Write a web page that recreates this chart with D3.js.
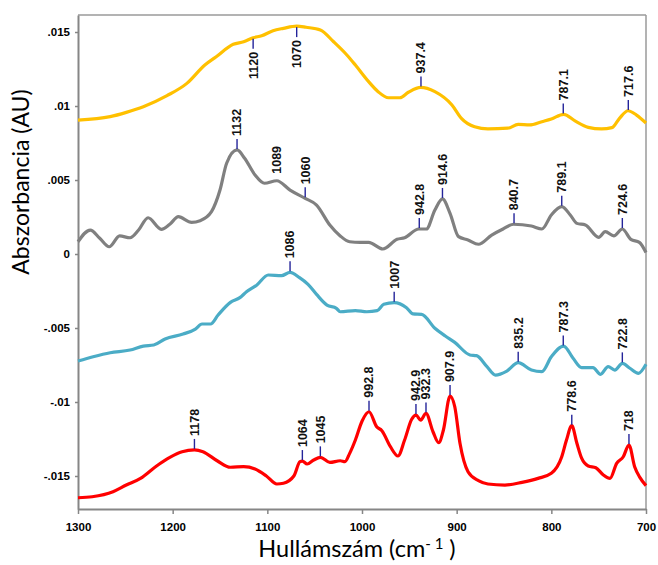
<!DOCTYPE html>
<html>
<head>
<meta charset="utf-8">
<script src="https://cdn.jsdelivr.net/npm/d3@7"></script>
<style>
body { margin: 0; background: #fff; }
</style>
</head>
<body>
<div id="chart"></div>
<script>
// spectra: [wavenumber, absorbance]
var yellowSeries = [[1300,.00905],[1266,.00928],[1249,.00957],[1231,.00995],[1206,.0107],[1185,.01153],[1166,.01277],[1154,.01333],[1136,.01417],[1125,.01434],[1115,.01461],[1106,.01475],[1094,.01509],[1083,.01525],[1069,.0154],[1059,.01532],[1044,.01514],[1030,.01434],[1016,.01345],[1007,.01277],[993,.01165],[983,.01097],[972,.01056],[960,.01056],[951,.01093],[938,.01126],[923,.01097],[905,.01007],[895,.00917],[881,.0086],[867,.00845],[846,.0085],[835,.00876],[823,.00872],[810,.00894],[800,.00912],[787,.00944],[775,.00899],[761,.00856],[747,.00845],[736,.00854],[728,.00917],[719,.00968],[710,.00939],[700,.00885]];
var graySeries = [[1300,.00083],[1287,.00162],[1277,.00106],[1267,.00049],[1256,.00122],[1245,.0011],[1236,.00162],[1226,.00245],[1212,.00167],[1203,.00201],[1194,.00252],[1180,.00214],[1171,.00225],[1159,.00286],[1150,.00432],[1143,.00613],[1132,.00703],[1124,.00647],[1113,.00534],[1103,.00478],[1090,.00495],[1076,.00432],[1060,.00376],[1048,.00331],[1034,.00196],[1023,.00122],[1013,.00083],[1002,.00079],[993,.00079],[978,.00034],[963,.00099],[955,.0011],[940,.00169],[932,.00169],[923,.00297],[915,.00372],[907,.00275],[898,.00117],[888,.00095],[877,.00066],[863,.00128],[851,.00169],[840,.00201],[821,.00189],[810,.00169],[800,.00264],[789,.0032],[780,.00264],[773,.00207],[764,.00196],[750,.00113],[743,.00151],[734,.00122],[725,.00169],[716,.00099],[707,.00079],[700,.0001]];
var blueSeries = [[1300,-.00723],[1284,-.00694],[1266,-.00667],[1245,-.00649],[1231,-.00622],[1220,-.00615],[1208,-.00574],[1189,-.00541],[1176,-.00507],[1169,-.00473],[1160,-.00473],[1152,-.00412],[1139,-.00327],[1129,-.00295],[1122,-.00255],[1111,-.00209],[1099,-.00142],[1085,-.00146],[1076,-.00124],[1066,-.0016],[1057,-.00205],[1048,-.00273],[1037,-.00345],[1027,-.00367],[1023,-.0039],[1007,-.00383],[995,-.0039],[984,-.00383],[977,-.0034],[966,-.00329],[953,-.00363],[946,-.00405],[937,-.00408],[923,-.00502],[912,-.00554],[902,-.00597],[886,-.00682],[879,-.00687],[868,-.00761],[859,-.00818],[847,-.00791],[835,-.00734],[821,-.00784],[810,-.00795],[800,-.00694],[787,-.00622],[777,-.00705],[768,-.00768],[756,-.00768],[748,-.00813],[740,-.00761],[733,-.00784],[725,-.00739],[717,-.00772],[708,-.00806],[700,-.00745]];
var redSeries = [[1300,-.01647],[1285,-.0164],[1263,-.01606],[1249,-.01561],[1234,-.01516],[1217,-.01432],[1203,-.01374],[1190,-.01336],[1177,-.01324],[1168,-.01336],[1153,-.01397],[1139,-.01441],[1125,-.01437],[1113,-.01453],[1101,-.015],[1090,-.01554],[1083,-.01549],[1072,-.015],[1065.5,-.01403],[1063,-.01399],[1058,-.01419],[1051,-.01392],[1044,-.01374],[1034,-.01408],[1023,-.01397],[1018,-.01403],[1013,-.01347],[1007,-.01257],[1000,-.0113],[992.6,-.01066],[984.5,-.01167],[979,-.01194],[970,-.01302],[962,-.01365],[955,-.01257],[947.5,-.01117],[943,-.01088],[938,-.01122],[932.4,-.01077],[925,-.01201],[919,-.01275],[914,-.01189],[907,-.0096],[902,-.01032],[896.5,-.01279],[888,-.01471],[877,-.01532],[867,-.01554],[849,-.01561],[831,-.01543],[814,-.01516],[800,-.01482],[789,-.0137],[784,-.01257],[778.4,-.0116],[773,-.01279],[768,-.0138],[761,-.01432],[753,-.01444],[745,-.01493],[738,-.01516],[731,-.01415],[724,-.0137],[718,-.01291],[712,-.01437],[706.5,-.01509],[700,-.01565]];

// peak labels: [text, wavenumber where the marker sits, below?]
var yellowPeaks = [["1120",1115,true],["1070",1069,true],["937.4",937.7],["787.1",787.4],["717.6",718.7]];
var grayPeaks = [["1132",1132],["1089",1090],["1060",1060],["942.8",939.5],["914.6",915],["840.7",839.4],["789.1",789],["724.6",725]];
var bluePeaks = [["1086",1076],["1007",966],["835.2",835],["787.3",787.4],["722.8",725]];
var redPeaks = [["1178",1177],["1064",1063],["1045",1044],["992.8",992.6],["942.9",943],["932.3",932.4],["907.9",907],["778.6",778.4],["718",718]];

var xTicks = [1300,1200,1100,1000,900,800,700];
var yTicks = [.015,.01,.005,0,-.005,-.01,-.015];
var yTickLabels = [".015",".01",".005","0","-.005","-.01","-.015"];

var width = 658, height = 565;
var plotLeft = 78, plotRight = 646, plotTop = 15, plotBottom = 509;
var tickFont = "'Liberation Sans', Arial, sans-serif";
var titleFont = "Lato, 'Open Sans', sans-serif";
var markColor = "#24249a";

var svg = d3.select("#chart").append("svg")
  .attr("width", width)
  .attr("height", height);

var x = d3.scaleLinear().domain([1300, 700]).range([plotLeft, plotRight]);
var y = d3.scaleLinear().domain([-.01723, .01615]).range([plotBottom, plotTop]);

// frame (top + right are thin)
svg.append("line").call(lineAttr, "#9a9a9a", 1.5, plotLeft, plotTop, plotRight, plotTop);
svg.append("line").call(lineAttr, "#9a9a9a", 1.5, plotRight, plotTop, plotRight, plotBottom);

var xAxis = svg.append("g")
  .attr("transform", "translate(0," + plotBottom + ")")
  .call(d3.axisBottom(x).tickValues(xTicks).tickFormat(d3.format("d")).tickSize(5).tickSizeOuter(0).tickPadding(9));
var yAxis = svg.append("g")
  .attr("transform", "translate(" + plotLeft + ",0)")
  .call(d3.axisLeft(y).tickValues(yTicks).tickFormat(function(d, i) { return yTickLabels[i]; }).tickSize(3).tickSizeOuter(0).tickPadding(5));

[xAxis, yAxis].forEach(function(a) {
  a.select(".domain").attr("stroke", "#868686").attr("stroke-width", 2);
  a.selectAll(".tick line").attr("stroke", "#868686").attr("stroke-width", 1.5);
  a.selectAll(".tick text")
    .attr("fill", "#000")
    .attr("font-family", tickFont)
    .attr("font-weight", "bold")
    .attr("font-size", "11.5px");
});

var line = d3.line()
  .x(function(d) { return x(d[0]); })
  .y(function(d) { return y(d[1]); })
  .curve(d3.curveMonotoneX);

var spectra = [
  {data: yellowSeries, peaks: yellowPeaks, color: "#FFC000"},
  {data: graySeries, peaks: grayPeaks, color: "#808080"},
  {data: blueSeries, peaks: bluePeaks, color: "#4BACC6"},
  {data: redSeries, peaks: redPeaks, color: "#FF0000"}
];

spectra.forEach(function(s) {
  svg.append("path")
    .datum(s.data)
    .attr("fill", "none")
    .attr("stroke", s.color)
    .attr("stroke-width", 3.2)
    .attr("stroke-linejoin", "round")
    .attr("d", line);
});

spectra.forEach(function(s) {
  s.peaks.forEach(function(p) {
    var px = x(p[1]);
    var cy = y(valueAt(s.data, p[1]));
    var below = p[2] === true;
    var dir = below ? 1 : -1;
    var tickLen = p[0] === "1089" ? 0 : 11;
    var gap = p[0] === "1089" ? 7 : 3;
    if (tickLen > 0) {
      svg.append("line").call(lineAttr, markColor, 1.4, px, cy + dir * 1, px, cy + dir * tickLen);
    }
    svg.append("text")
      .attr("transform", "translate(" + px + "," + (cy + dir * (tickLen + gap)) + ") rotate(-90)")
      .attr("text-anchor", below ? "end" : "start")
      .attr("dy", "0.35em")
      .attr("font-weight", "bold")
      .call(textAttr, "#111", tickFont, "12.5px")
      .text(p[0]);
  });
});

// axis titles
svg.append("text")
  .attr("transform", "translate(21,182) rotate(-90)")
  .attr("text-anchor", "middle")
  .attr("dy", "0.35em")
  .call(textAttr, "#000", titleFont, "23px")
  .text("Abszorbancia (AU)");

var xTitle = svg.append("text")
  .attr("x", 357)
  .attr("y", 557)
  .attr("text-anchor", "middle")
  .call(textAttr, "#000", titleFont, "23.5px");
xTitle.append("tspan").text("Hullámszám (cm");
xTitle.append("tspan").attr("dy", -8).attr("font-size", "15px").text("- 1");
xTitle.append("tspan").attr("dy", 8).text(" )");

function valueAt(data, w) {
  for (var i = 0; i < data.length - 1; i++) {
    var a = data[i], b = data[i + 1];
    if (w <= a[0] && w >= b[0]) {
      var t = (a[0] - w) / (a[0] - b[0]);
      return a[1] + t * (b[1] - a[1]);
    }
  }
  return data[data.length - 1][1];
}

function lineAttr(selection, stroke, strokeWidth, x1, y1, x2, y2) {
  selection
    .attr("stroke", stroke)
    .attr("stroke-width", strokeWidth)
    .attr("x1", x1)
    .attr("y1", y1)
    .attr("x2", x2)
    .attr("y2", y2);
}

function textAttr(selection, fill, fontFamily, fontSize) {
  selection
    .attr("fill", fill)
    .attr("font-family", fontFamily)
    .attr("font-size", fontSize);
}
</script>
</body>
</html>
